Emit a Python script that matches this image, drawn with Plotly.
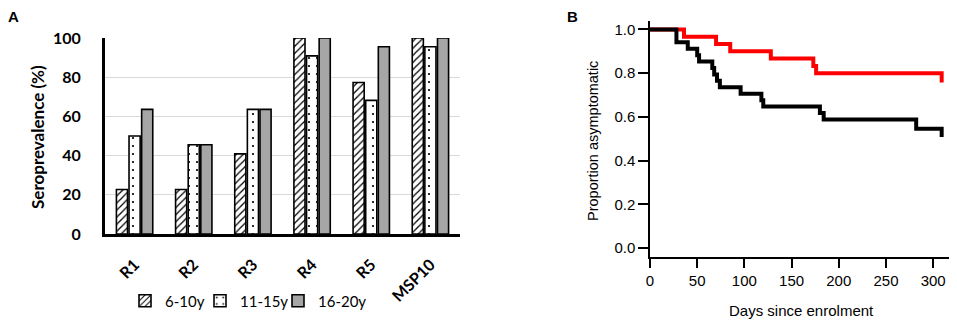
import plotly.graph_objects as go

# ---------------- Panel A data ----------------
antigens = ["R1", "R2", "R3", "R4", "R5", "MSP10"]
age_groups = ["6-10y", "11-15y", "16-20y"]
sero_6_10 = [22.7, 22.7, 40.9, 100, 77.3, 100]
sero_11_15 = [50.0, 45.5, 63.6, 90.9, 68.2, 95.5]
sero_16_20 = [63.6, 45.5, 63.6, 100, 95.5, 100]
y_ticks_a = [0, 20, 40, 60, 80, 100]

# ---------------- Panel B data (Kaplan-Meier steps) ----------------
red_days = [0, 36, 70, 85, 128, 173, 176, 309, 309]
red_prop = [1.0, 0.967, 0.933, 0.900, 0.867, 0.833, 0.800, 0.800, 0.757]
black_days = [0, 28, 40, 50, 52, 66, 68, 71, 74, 96, 118, 120, 180, 184, 282, 309, 309]
black_prop = [1.0, 0.941, 0.912, 0.882, 0.853, 0.824, 0.794, 0.765, 0.735,
              0.706, 0.676, 0.647, 0.618, 0.588, 0.545, 0.545, 0.508]
x_ticks_b = [0, 50, 100, 150, 200, 250, 300]
y_ticks_b = [0.0, 0.2, 0.4, 0.6, 0.8, 1.0]

OFF = 8  # default page body margin
W, H = 957 - OFF, 321 - OFF
def px_x(p):
    return (p - OFF) / W
def px_y(p):
    return 1 - (p - OFF) / H

FONT_A = "Lato"
FONT_B = "Liberation Sans, Arial, sans-serif"

fig = go.Figure()

patterns = [
    dict(shape="/", fgcolor="black", bgcolor="white", size=5, solidity=0.25, fillmode="replace"),
    dict(shape=".", fgcolor="black", bgcolor="white", size=8, solidity=0.06, fillmode="replace"),
    dict(shape="", bgcolor="#a6a6a6"),
]
colors = ["white", "white", "#a6a6a6"]
legend_ids = ["legend", "legend2", "legend3"]
for name, vals, pat, col, lid in zip(age_groups, [sero_6_10, sero_11_15, sero_16_20],
                                     patterns, colors, legend_ids):
    fig.add_trace(go.Bar(
        x=antigens, y=vals, name=name, legend=lid,
        marker=dict(color=col, pattern=pat, line=dict(color="black", width=1.6)),
        xaxis="x", yaxis="y",
    ))

fig.add_trace(go.Scatter(
    x=red_days, y=red_prop, mode="lines", line=dict(color="#ff0000", width=4, shape="hv"),
    showlegend=False, xaxis="x2", yaxis="y2",
))
fig.add_trace(go.Scatter(
    x=black_days, y=black_prop, mode="lines", line=dict(color="black", width=4, shape="hv"),
    showlegend=False, xaxis="x2", yaxis="y2",
))

def legend_at(box_center_x):
    return dict(
        orientation="h", x=px_x(box_center_x - 20), y=px_y(301),
        xanchor="left", yanchor="middle",
        font=dict(family=FONT_A, size=15, color="black"),
        itemwidth=30, bgcolor="rgba(0,0,0,0)",
    )

fig.update_layout(
    width=W, height=H,
    margin=dict(l=0, r=0, t=0, b=0, autoexpand=False),
    paper_bgcolor="white", plot_bgcolor="white",
    barmode="group", bargap=0.36, bargroupgap=0.12,
    xaxis=dict(
        domain=[px_x(105), px_x(460)], anchor="y", automargin=False,
        range=[-0.5, 5.5], showline=True, linecolor="black", linewidth=3,
        ticks="", tickangle=-45, showgrid=False, zeroline=False,
        ticklabelstandoff=12,
        tickfont=dict(family=FONT_A, size=16, color="black", weight="bold"),
    ),
    yaxis=dict(
        domain=[px_y(234), px_y(38)], anchor="x", automargin=False,
        range=[0, 100], tickvals=y_ticks_a, showline=True, linecolor="black", linewidth=3,
        showgrid=True, gridcolor="#d9d9d9", gridwidth=1, zeroline=False, ticks="",
        ticklabelstandoff=18,
        tickfont=dict(family=FONT_A, size=16, color="black", weight="bold"),
    ),
    xaxis2=dict(
        domain=[px_x(650), px_x(953)], anchor="y2", automargin=False,
        range=[0, 321], tickvals=x_ticks_b, showline=True, linecolor="black", linewidth=1.5,
        ticks="outside", ticklen=10, tickwidth=1.5, tickcolor="black",
        showgrid=False, zeroline=False,
        tickfont=dict(family=FONT_B, size=15, color="black"),
    ),
    yaxis2=dict(
        domain=[px_y(256.7), px_y(20.7)], anchor="x2", automargin=False,
        range=[-0.04, 1.04], tickvals=y_ticks_b, tickformat=".1f",
        showline=True, linecolor="black", linewidth=1.5,
        ticks="outside", ticklen=10, tickwidth=1.5, tickcolor="black",
        showgrid=False, zeroline=False,
        tickfont=dict(family=FONT_B, size=15, color="black"),
    ),
    legend=legend_at(145),
    legend2=legend_at(220),
    legend3=legend_at(298),
    showlegend=True,
)

def ann(text, x, y, font, angle=0):
    return dict(text=text, x=px_x(x), y=px_y(y), xref="paper", yref="paper",
                xanchor="center", yanchor="middle", showarrow=False, borderpad=0,
                textangle=angle, font=font)

annotations = [
    ann("<b>A</b>", 13, 16, dict(family="Liberation Sans", size=15, color="black")),
    ann("<b>B</b>", 572, 16, dict(family="Liberation Sans", size=15, color="black")),
    ann("<b>Seroprevalence (%)</b>", 37, 137, dict(family=FONT_A, size=17, color="black"), -90),
    ann("Proportion asymptomatic", 593, 141, dict(family=FONT_B, size=14.5, color="black"), -90),
    ann("Days since enrolment", 801.5, 310, dict(family=FONT_B, size=15, color="black")),
]
fig.update_layout(annotations=annotations)

fig.write_html("out.html")
